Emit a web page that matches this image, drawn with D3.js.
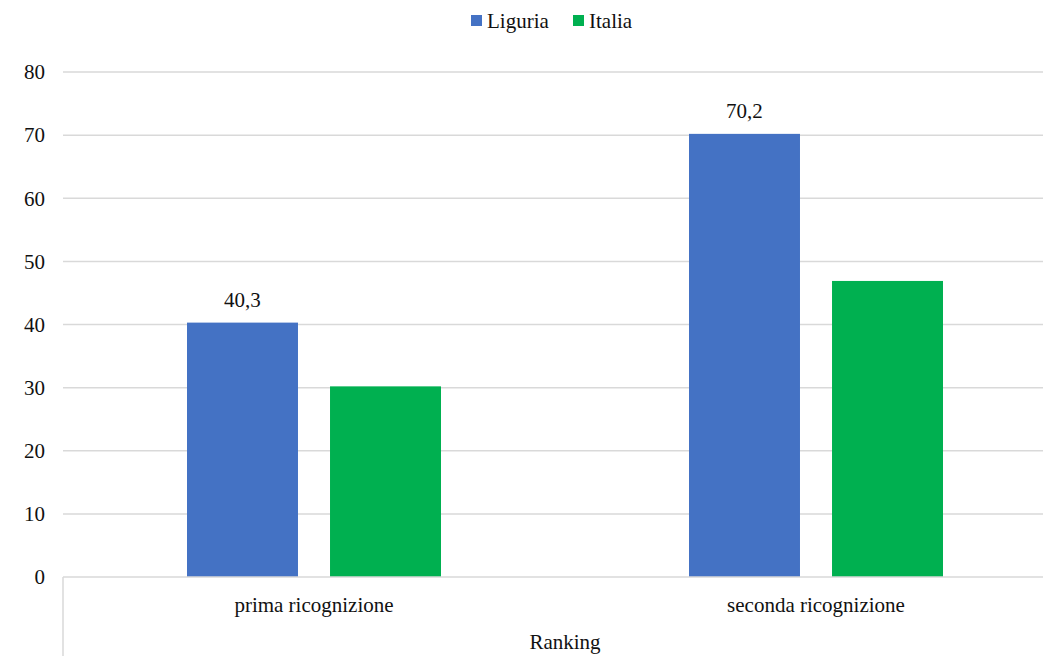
<!DOCTYPE html>
<html>
<head>
<meta charset="utf-8">
<script src="https://cdn.jsdelivr.net/npm/d3@7"></script>
<style>
  body { margin: 0; background: #fff; }
</style>
</head>
<body>
<div id="chart"></div>
<script>
    "use strict";

    // data
    var categories = ["prima ricognizione", "seconda ricognizione"];
    var series = ["Liguria", "Italia"];
    var liguria = [40.3, 70.2];
    var italia = [30.2, 46.9];
    var yTicks = [0, 10, 20, 30, 40, 50, 60, 70, 80];
    var colors = ["#4472C4", "#00B050"];
    var axisTitle = "Ranking";

    var W = 1043, H = 656, FS = 21;
    var svg = d3.select("#chart").append("svg")
        .attr("width", W)
        .attr("height", H)
        .style("font-family", "'Liberation Serif', 'DejaVu Serif', 'Times New Roman', serif")
        .style("fill", "#111");

    var x0 = d3.scaleBand().domain(categories).range([63, 1067]);
    var x1 = d3.scaleBand().domain(series).range([124, 378]).paddingInner(0.224);
    var y = d3.scaleLinear().domain([0, 80]).range([577, 72]);

    // gridlines
    svg.append("g").selectAll("line")
        .data(yTicks.filter(function (d) { return d > 0; }))
        .enter().append("line")
        .attr("x1", 63).attr("x2", W)
        .attr("y1", function (d) { return y(d); })
        .attr("y2", function (d) { return y(d); })
        .attr("stroke", "#d9d9d9")
        .attr("stroke-width", 1.5);

    // y labels
    svg.append("g").selectAll("text")
        .data(yTicks)
        .enter().append("text")
        .attr("x", 45)
        .attr("y", function (d) { return y(d); })
        .attr("dy", "0.35em")
        .attr("text-anchor", "end")
        .attr("font-size", FS)
        .text(function (d) { return d; });

    var rows = categories.map(function (c, i) {
        return { cat: c, values: [liguria[i], italia[i]] };
    });

    var groups = svg.append("g").selectAll("g")
        .data(rows)
        .enter().append("g")
        .attr("transform", function (d) { return "translate(" + x0(d.cat) + ",0)"; });

    groups.selectAll("rect")
        .data(function (d) { return d.values.map(function (v, j) { return { s: series[j], v: v, j: j }; }); })
        .enter().append("rect")
        .attr("x", function (d) { return x1(d.s); })
        .attr("width", x1.bandwidth())
        .attr("y", function (d) { return y(d.v); })
        .attr("height", function (d) { return y(0) - y(d.v); })
        .attr("fill", function (d) { return colors[d.j]; });

    // data labels only for Liguria
    groups.append("text")
        .attr("x", function () { return x1("Liguria") + x1.bandwidth() / 2; })
        .attr("y", function (d) { return y(d.values[0]) - 16; })
        .attr("text-anchor", "middle")
        .attr("font-size", FS)
        .text(function (d) { return String(d.values[0]).replace(".", ","); });

    // x axis line and the left boundary of the category area
    svg.append("line")
        .attr("x1", 63).attr("x2", W)
        .attr("y1", y(0)).attr("y2", y(0))
        .attr("stroke", "#d9d9d9").attr("stroke-width", 1.5);
    svg.append("line")
        .attr("x1", 63).attr("x2", 63)
        .attr("y1", y(0)).attr("y2", H)
        .attr("stroke", "#d9d9d9").attr("stroke-width", 1.5);

    // category labels
    svg.append("g").selectAll("text")
        .data(categories)
        .enter().append("text")
        .attr("x", function (d) { return x0(d) + x0.bandwidth() / 2; })
        .attr("y", 612)
        .attr("text-anchor", "middle")
        .attr("font-size", FS)
        .text(function (d) { return d; });

    svg.append("text")
        .attr("x", (63 + 1067) / 2)
        .attr("y", 649)
        .attr("text-anchor", "middle")
        .attr("font-size", FS)
        .text(axisTitle);

    // legend
    var legendX = [471, 573];
    var legend = svg.append("g").selectAll("g")
        .data(series)
        .enter().append("g")
        .attr("transform", function (d, i) { return "translate(" + legendX[i] + ",0)"; });
    legend.append("rect")
        .attr("x", 0).attr("y", 15)
        .attr("width", 11).attr("height", 11)
        .attr("fill", function (d, i) { return colors[i]; });
    legend.append("text")
        .attr("x", 16).attr("y", 21)
        .attr("dy", "0.35em")
        .attr("font-size", FS)
        .text(function (d) { return d; });
</script>
</body>
</html>
